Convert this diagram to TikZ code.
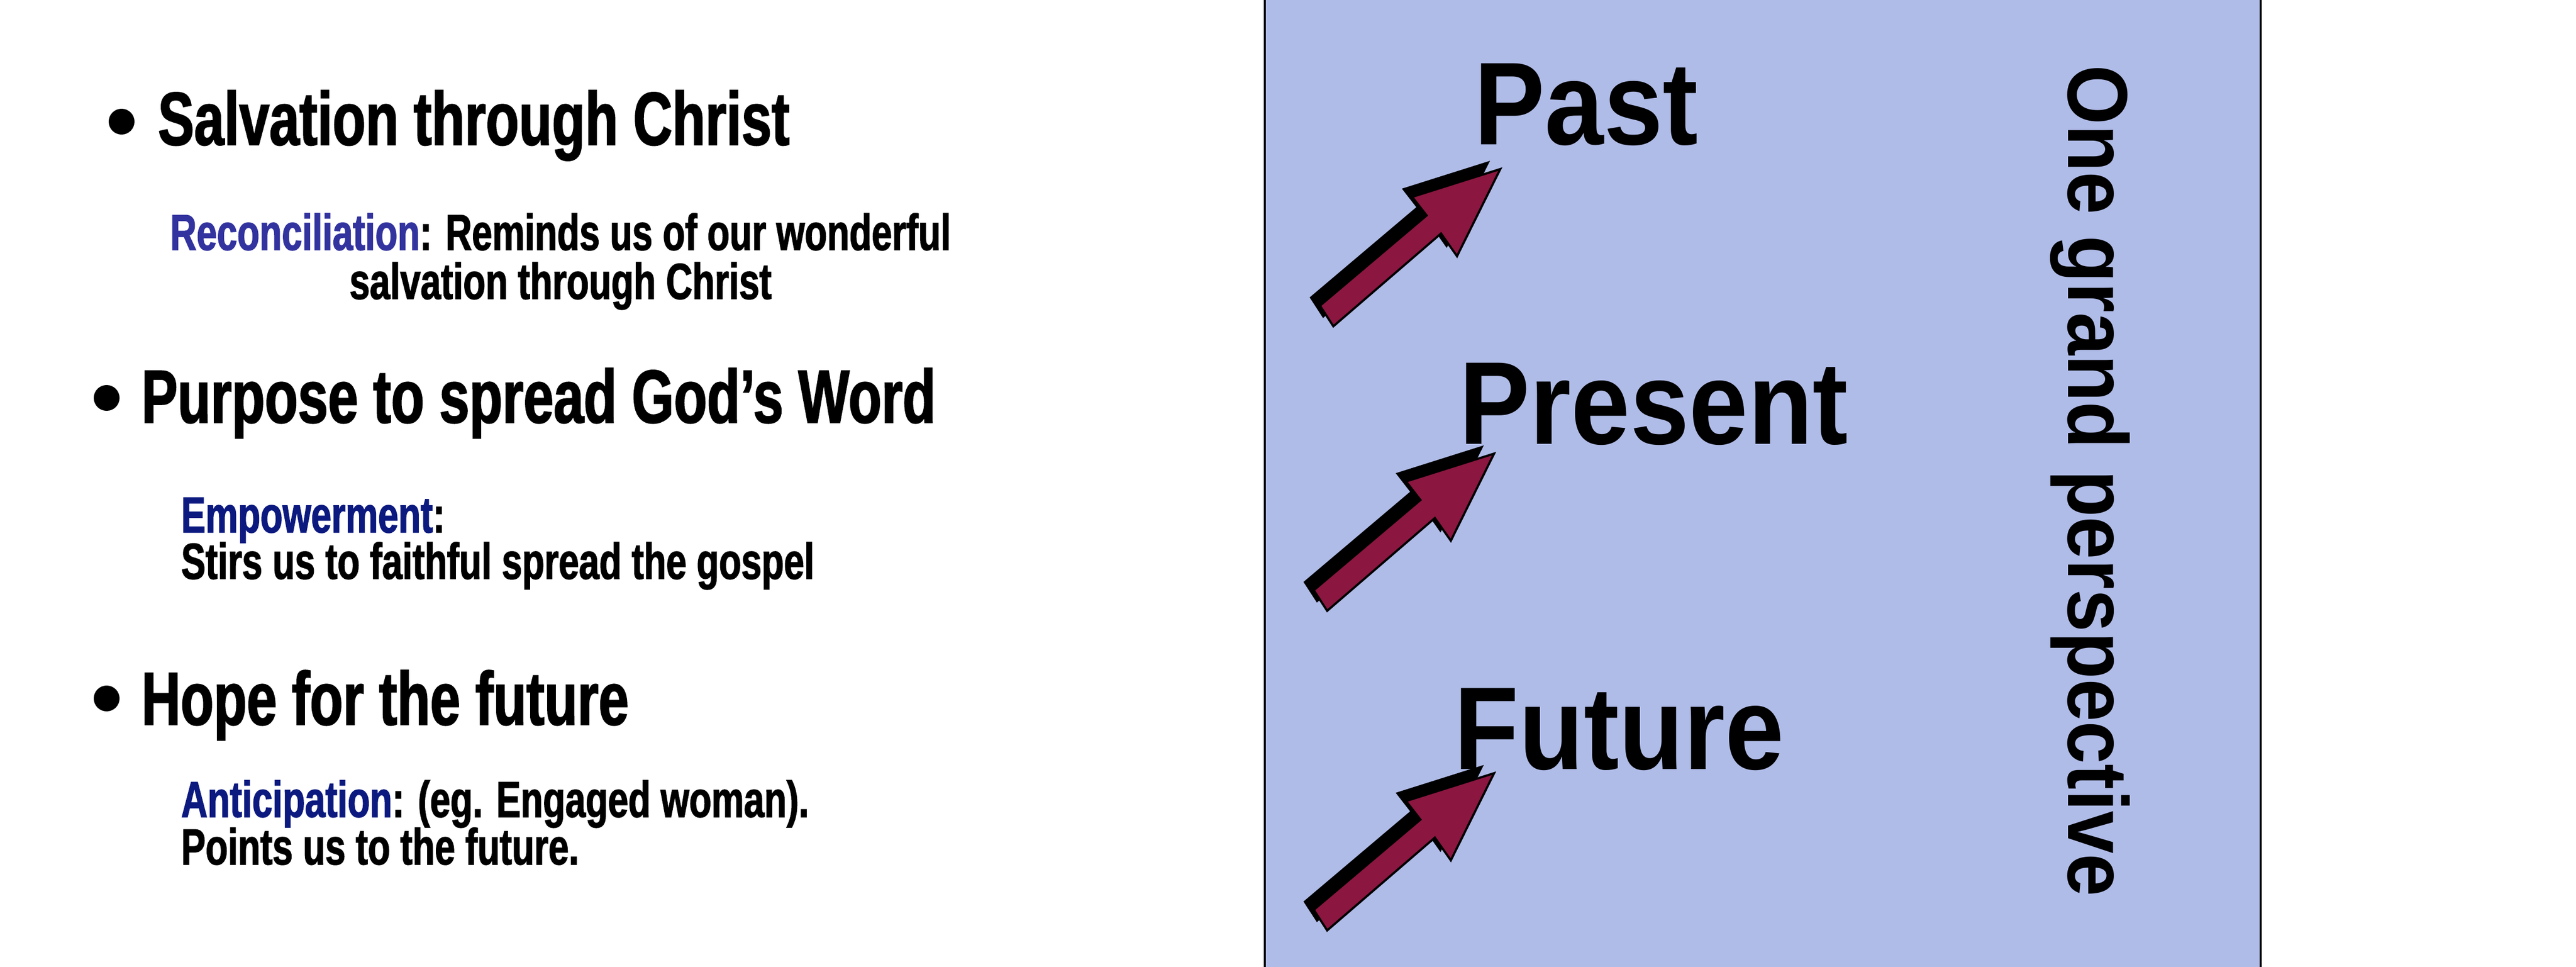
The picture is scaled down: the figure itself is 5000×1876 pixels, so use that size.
\documentclass[tikz,border=0pt]{standalone}
\usepackage{fontspec}
\setmainfont{Liberation Sans}[FakeStretch=0.72, FakeBold=1.5]
\newfontfamily\widefont{Liberation Sans}[FakeStretch=0.9]
\definecolor{panelblue}{HTML}{B0BCE8}
\definecolor{arrowred}{HTML}{8B1640}
\definecolor{keyblue}{HTML}{3333A0}
\definecolor{keynavy}{HTML}{0C1A80}
\tikzset{
    heading/.style={anchor=base west, inner sep=0pt, font=\bfseries\fontsize{41.5}{44}\selectfont},
    note/.style={anchor=base west, inner sep=0pt, font=\bfseries\fontsize{28}{30}\selectfont},
    era/.style={anchor=base west, inner sep=0pt, font=\widefont\bfseries\fontsize{65}{68}\selectfont},
    dot/.style={circle, fill=black, inner sep=0pt, minimum size=0.5cm},
}
\newcommand{\eraarrow}[2]{%
    \begin{scope}[shift={(#1,#2)}]
        \fill[black, shift={(-20,-16)}] (2562,593) -- (2769,418) -- (2741,382) -- (2912,328)
            -- (2828,497) -- (2797,453) -- (2588,633) -- cycle;
        \filldraw[fill=arrowred, draw=black, line width=1.2pt] (2562,593) -- (2769,418) -- (2741,382) -- (2912,328)
            -- (2828,497) -- (2797,453) -- (2588,633) -- cycle;
    \end{scope}}
\begin{document}
\begin{tikzpicture}[x=0.01cm, y=-0.01cm]
    \useasboundingbox (0,0) rectangle (5000,1876);
    % panel
    \fill[panelblue] (2455,0) rectangle (4388,1876);
    \draw[line width=1.2pt] (2455,0) -- (2455,1876);
    \draw[line width=1.2pt] (4388,0) -- (4388,1876);

    % left column
    \node[dot] (d1) at (236,236) {};
    \node[heading] (salv) at (306,281) {Salvation through Christ};
    \node[note, anchor=base] (rec1) at (1088,485) {\textcolor{keyblue}{Reconciliation}: Reminds us of our wonderful};
    \node[note, anchor=base] (rec2) at (1088,580) {salvation through Christ};

    \node[dot] (d2) at (207,772) {};
    \node[heading] (purp) at (274,820) {Purpose to spread God’s Word};
    \node[note] (emp1) at (351,1033) {\textcolor{keynavy}{Empowerment}:};
    \node[note] (emp2) at (351,1123) {Stirs us to faithful spread the gospel};

    \node[dot] (d3) at (207,1355) {};
    \node[heading] (hope) at (274,1406) {Hope for the future};
    \node[note] (ant1) at (351,1585) {\textcolor{keynavy}{Anticipation}: (eg. Engaged woman).};
    \node[note] (ant2) at (351,1677) {Points us to the future.};

    % right panel
    \eraarrow{0}{0}
    \eraarrow{-12}{552}
    \eraarrow{-12}{1172}
    \node[era] (past) at (2861,281) {Past};
    \node[era] (present) at (2832,861) {Present};
    \node[era] (future) at (2822,1492) {Future};
    \node[rotate=-90, inner sep=0pt, font=\widefont\bfseries\fontsize{47}{50}\selectfont] (grand) at (4057,933) {One grand perspective};
\end{tikzpicture}
\end{document}
